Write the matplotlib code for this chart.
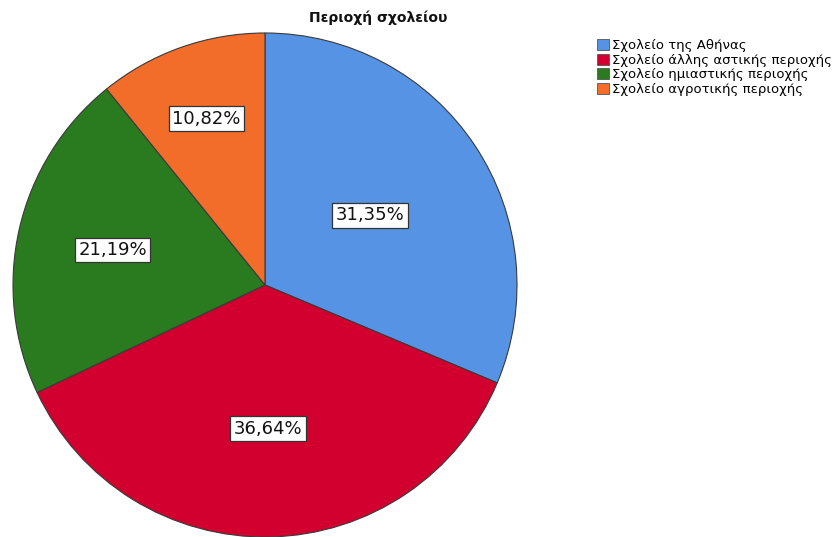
import numpy as np
import matplotlib
matplotlib.use("Agg")
import matplotlib.pyplot as plt
from matplotlib.patches import Patch

categories = [
    "Σχολείο της Αθήνας",
    "Σχολείο άλλης αστικής περιοχής",
    "Σχολείο ημιαστικής περιοχής",
    "Σχολείο αγροτικής περιοχής",
]
shares = [31.35, 36.64, 21.19, 10.82]
colors = ["#5693E4", "#D2002E", "#2A7A20", "#F26C2A"]
# distance of each percentage label from the centre (fraction of radius)
label_radius = [0.50, 0.57, 0.62, 0.70]

fig = plt.figure(figsize=(8.38, 5.37), dpi=100)
ax = fig.add_axes([13 / 838, 0.0, 504 / 838, 504 / 537])

wedges, _ = ax.pie(shares, colors=colors, startangle=90, counterclock=False,
                   radius=1.0, wedgeprops=dict(edgecolor="#3a3a3a", linewidth=0.8))
ax.set_xlim(-1, 1)
ax.set_ylim(-1, 1)
ax.set_aspect("equal")
ax.axis("off")

for w, val, r in zip(wedges, shares, label_radius):
    mid = np.deg2rad((w.theta1 + w.theta2) / 2)
    ax.text(r * np.cos(mid), r * np.sin(mid), f"{val:.2f}%".replace(".", ","),
            ha="center", va="center", fontsize=13, color="#111111",
            bbox=dict(boxstyle="square,pad=0.18", facecolor="white",
                      edgecolor="#333333", linewidth=0.9))

fig.text(378 / 838, 1 - 18 / 537, "Περιοχή σχολείου", ha="center", va="center",
         fontsize=10, fontweight="bold", color="#111111")

handles = [Patch(facecolor=c, edgecolor="#555555", linewidth=0.6) for c in colors]
fig.legend(handles, categories, loc="upper left", bbox_to_anchor=(597 / 838, 1 - 39 / 537),
           frameon=False, fontsize=9.5, handlelength=0.9, handleheight=0.9,
           handletextpad=0.2, labelspacing=0.12, borderpad=0, borderaxespad=0)

fig.savefig("out.png", dpi=100)
